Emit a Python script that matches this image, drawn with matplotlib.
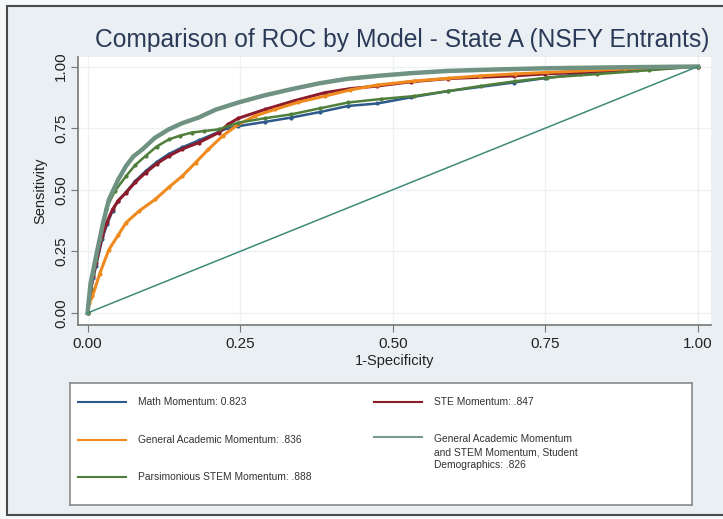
import matplotlib.pyplot as plt
from matplotlib.patches import Rectangle

plt.rcParams['font.family'] = ['Liberation Sans', 'DejaVu Sans']

W, H = 723, 519

# ROC points (1-specificity, sensitivity)
math_x = [0, 0.005, 0.009, 0.014, 0.024, 0.032, 0.041, 0.05, 0.063, 0.078, 0.095, 0.113, 0.133, 0.155, 0.182,
          0.215, 0.23, 0.247, 0.29, 0.334, 0.38, 0.427, 0.475, 0.53, 0.59, 0.698, 0.75, 0.806, 0.9, 1.0]
math_y = [0, 0.08, 0.14, 0.19, 0.30, 0.36, 0.415, 0.455, 0.49, 0.535, 0.575, 0.612, 0.645, 0.672, 0.70,
          0.735, 0.75, 0.758, 0.775, 0.793, 0.815, 0.84, 0.85, 0.875, 0.90, 0.935, 0.953, 0.969, 0.985, 1.0]

ste_x = [0, 0.005, 0.009, 0.014, 0.024, 0.032, 0.041, 0.05, 0.063, 0.078, 0.095, 0.113, 0.133, 0.155, 0.182,
         0.215, 0.23, 0.247, 0.291, 0.34, 0.389, 0.43, 0.475, 0.53, 0.59, 0.698, 0.75, 0.806, 0.9, 1.0]
ste_y = [0, 0.09, 0.15, 0.203, 0.311, 0.37, 0.42, 0.455, 0.488, 0.53, 0.569, 0.605, 0.637, 0.665, 0.691,
         0.732, 0.765, 0.79, 0.826, 0.862, 0.894, 0.91, 0.921, 0.938, 0.951, 0.962, 0.97, 0.976, 0.99, 1.0]

gam_x = [0, 0.003, 0.008, 0.02, 0.035, 0.05, 0.063, 0.085, 0.111, 0.133, 0.155, 0.177, 0.198, 0.222, 0.247,
         0.275, 0.307, 0.345, 0.389, 0.43, 0.475, 0.535, 0.59, 0.643, 0.7, 0.753, 0.88, 1.0]
gam_y = [0, 0.04, 0.067, 0.16, 0.257, 0.315, 0.366, 0.415, 0.461, 0.51, 0.555, 0.61, 0.664, 0.72, 0.765,
         0.8, 0.826, 0.855, 0.88, 0.905, 0.925, 0.941, 0.952, 0.962, 0.97, 0.976, 0.99, 1.0]

pars_x = [0, 0.005, 0.009, 0.014, 0.02, 0.03, 0.045, 0.063, 0.078, 0.095, 0.113, 0.133, 0.152, 0.171, 0.19,
          0.215, 0.247, 0.29, 0.334, 0.38, 0.427, 0.48, 0.535, 0.59, 0.644, 0.7, 0.753, 0.834, 0.92, 1.0]
pars_y = [0, 0.10, 0.16, 0.22, 0.30, 0.42, 0.495, 0.555, 0.60, 0.637, 0.675, 0.704, 0.72, 0.732, 0.738,
          0.745, 0.772, 0.79, 0.806, 0.83, 0.854, 0.868, 0.88, 0.90, 0.921, 0.94, 0.955, 0.969, 0.985, 1.0]

full_x = [0, 0.005, 0.014, 0.025, 0.035, 0.05, 0.063, 0.075, 0.09, 0.11, 0.133, 0.155, 0.182, 0.21, 0.247,
          0.29, 0.334, 0.38, 0.425, 0.475, 0.53, 0.59, 0.67, 0.753, 0.88, 1.0]
full_y = [0, 0.12, 0.23, 0.36, 0.46, 0.54, 0.596, 0.635, 0.664, 0.71, 0.745, 0.77, 0.793, 0.825, 0.854,
          0.883, 0.908, 0.932, 0.95, 0.962, 0.973, 0.982, 0.988, 0.993, 0.997, 1.0]

ref_x = [0, 1]
ref_y = [0, 1]

labels = ['Math Momentum: 0.823',
          'STE Momentum: .847',
          'General Academic Momentum: .836',
          'General Academic Momentum\nand STEM Momentum, Student\nDemographics: .826',
          'Parsimonious STEM Momentum: .888']
colors = ['#2d5a8a', '#8c1c2c', '#ef8a1e', '#7a9c8e', '#4f7f3a']
ticks = [0, 0.25, 0.5, 0.75, 1.0]
tick_labels = ['0.00', '0.25', '0.50', '0.75', '1.00']

fig = plt.figure(figsize=(W / 100, H / 100), dpi=100)
fig.patch.set_facecolor('#f6f8f9')
fig.patches.append(Rectangle((7 / W, 1 - 515 / H), 1.0, 509 / H, transform=fig.transFigure,
                             facecolor='#e9eff2', edgecolor='#4a4a4a', lw=1.5, zorder=-10))

ax = fig.add_axes([78 / W, 1 - 325 / H, 633 / W, 268.5 / H])
ax.set_facecolor('white')
ax.plot(math_x, math_y, color=colors[0], lw=1.8, marker='o', ms=2)
ax.plot(ste_x, ste_y, color=colors[1], lw=2.2, marker='o', ms=2)
ax.plot(gam_x, gam_y, color=colors[2], lw=2.2, marker='o', ms=2)
ax.plot(pars_x, pars_y, color=colors[4], lw=1.8, marker='o', ms=2)
ax.plot(full_x, full_y, color='#6f9282', lw=3.2)
ax.plot(ref_x, ref_y, color='#3f8a78', lw=1.1)

ax.set_xlim(-0.0156, 1.0213)
ax.set_ylim(-0.0487, 1.0406)
ax.set_xticks(ticks)
ax.set_xticklabels(tick_labels)
ax.set_yticks(ticks)
ax.set_yticklabels(tick_labels, rotation=90, va='center')
ax.tick_params(length=5, color='#777777', labelsize=11, labelcolor='#222222')
ax.tick_params(axis='y', pad=2)
ax.grid(True, color='#eef1f4', lw=1)
ax.set_axisbelow(True)
for s in ['top', 'right']:
    ax.spines[s].set_visible(False)
for s in ['left', 'bottom']:
    ax.spines[s].set_color('#777777')
    ax.spines[s].set_linewidth(1.2)
ax.set_xlabel('1-Specificity', fontsize=10.5, color='#222222', labelpad=2)
ax.set_ylabel('Sensitivity', fontsize=10.5, color='#222222', labelpad=5)

fig.text(402 / W, 1 - 40 / H, 'Comparison of ROC by Model - State A (NSFY Entrants)',
         ha='center', va='center', fontsize=17.7, color='#2b3a58')

# legend box
lg = fig.add_axes([70 / W, 1 - 505 / H, 622 / W, 122 / H])
lg.set_xlim(70, 692)
lg.set_ylim(505, 383)
lg.set_xticks([])
lg.set_yticks([])
for s in lg.spines.values():
    s.set_color('#8a8a8a')
    s.set_linewidth(1.2)
rows = [(78, 402, 402), (374, 402, 402), (78, 440, 440), (374, 437, 434), (78, 477, 477)]
for (x0, ly, ty), lab, c in zip(rows, labels, colors):
    lg.plot([x0, x0 + 48], [ly, ly], color=c, lw=1.5)
    lg.text(x0 + 60, ty, lab, fontsize=7.4, color='#333333',
            va='top' if '\n' in lab else 'center', linespacing=1.4)

fig.savefig('out.png', dpi=100, facecolor=fig.get_facecolor())
